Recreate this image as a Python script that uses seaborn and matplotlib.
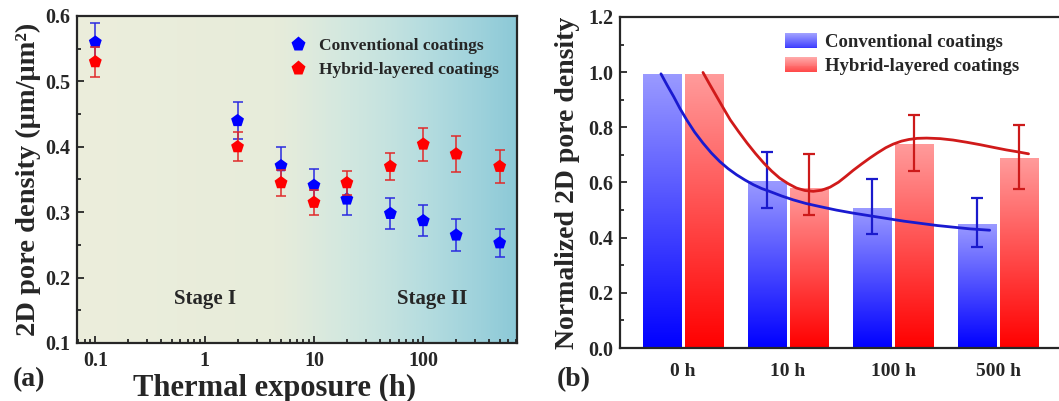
import numpy as np
import pandas as pd
import matplotlib
matplotlib.use("Agg")
import matplotlib.pyplot as plt
import seaborn as sns
from matplotlib.colors import LinearSegmentedColormap, to_rgb
from matplotlib.legend_handler import HandlerBase
from matplotlib.patches import Rectangle
from matplotlib.lines import Line2D
from matplotlib.ticker import FixedLocator, FixedFormatter, LogLocator, MultipleLocator, NullFormatter

# ---------------- data: panel (a) ----------------
exposure_h = [0.1, 2, 5, 10, 20, 50, 100, 200, 500]
conv_density = [0.56, 0.44, 0.371, 0.341, 0.32, 0.298, 0.287, 0.265, 0.253]
conv_err = [0.03, 0.028, 0.028, 0.025, 0.024, 0.024, 0.024, 0.024, 0.021]
hyb_density = [0.53, 0.40, 0.345, 0.315, 0.345, 0.37, 0.404, 0.389, 0.37]
hyb_err = [0.023, 0.022, 0.02, 0.019, 0.018, 0.021, 0.025, 0.028, 0.025]

# ---------------- data: panel (b) ----------------
time_labels = ["0 h", "10 h", "100 h", "500 h"]
conv_norm = [0.99, 0.604, 0.507, 0.447]
conv_err_lo = [0.0, 0.095, 0.094, 0.082]
conv_err_hi = [0.0, 0.106, 0.105, 0.095]
hyb_norm = [0.99, 0.58, 0.737, 0.686]
hyb_err_lo = [0.0, 0.097, 0.097, 0.108]
hyb_err_hi = [0.0, 0.124, 0.108, 0.121]

# fitted trend curves (category-axis units)
conv_curve_x = [-0.21, -0.15, -0.09, -0.03, 0.035, 0.11, 0.19, 0.27, 0.35, 0.43, 0.51, 0.59,
                0.67, 0.75, 0.83, 0.94, 1.05, 1.17, 1.3, 1.46, 1.62, 1.85, 2.1, 2.42, 2.73, 2.92]
conv_curve_y = [0.994, 0.952, 0.912, 0.869, 0.827, 0.783, 0.743, 0.707, 0.676, 0.650, 0.628, 0.609,
                0.592, 0.578, 0.567, 0.551, 0.537, 0.524, 0.513, 0.500, 0.489, 0.475, 0.460, 0.444,
                0.432, 0.427]
hyb_curve_x = [0.19, 0.255, 0.32, 0.385, 0.45, 0.53, 0.61, 0.69, 0.77, 0.845, 0.92, 1.0, 1.08,
               1.16, 1.24, 1.32, 1.40, 1.48, 1.55, 1.62, 1.70, 1.78, 1.85, 1.93, 2.0, 2.08, 2.15,
               2.23, 2.32, 2.45, 2.57, 2.70, 2.83, 2.96, 3.08, 3.19, 3.29]
hyb_curve_y = [0.999, 0.955, 0.912, 0.869, 0.827, 0.784, 0.743, 0.705, 0.670, 0.641, 0.616, 0.596,
               0.580, 0.571, 0.568, 0.572, 0.583, 0.601, 0.622, 0.644, 0.667, 0.689, 0.707, 0.726,
               0.739, 0.750, 0.756, 0.760, 0.761, 0.759, 0.754, 0.746, 0.737, 0.727, 0.718, 0.711,
               0.704]

series_names = ["Conventional coatings", "Hybrid-layered coatings"]

sns.set_style("ticks")
plt.rcParams["font.family"] = ["Liberation Serif", "DejaVu Serif"]
plt.rcParams["font.weight"] = "bold"
plt.rcParams["axes.labelweight"] = "bold"

fig = plt.figure(figsize=(10.59, 4.01), dpi=100)
axA = fig.add_axes([77 / 1059, 58 / 401, 440 / 1059, 327 / 401])
axB = fig.add_axes([620 / 1059, 53 / 401, 439 / 1059, 331 / 401])

# ================= panel (a) =================
bg_cmap = LinearSegmentedColormap.from_list(
    "bg", [(0.0, "#eceedc"), (0.45, "#e7ecda"), (0.5, "#e2ebdc"), (0.6, "#d4e8df"),
           (0.7, "#c6e3df"), (0.8, "#b4dcdf"), (0.9, "#a1d3dc"), (1.0, "#8cc9d7")])
grad = np.linspace(0, 1, 256).reshape(1, -1)
axA.imshow(grad, cmap=bg_cmap, extent=[0, 1, 0, 1], transform=axA.transAxes,
           aspect="auto", zorder=0)

dfA = pd.DataFrame({
    "x": exposure_h * 2,
    "y": conv_density + hyb_density,
    "s": [series_names[0]] * len(exposure_h) + [series_names[1]] * len(exposure_h),
})
axA.errorbar(exposure_h, conv_density, yerr=conv_err, fmt="none", ecolor="#2a2ae0",
             elinewidth=1.1, capsize=3.5, capthick=1.1, zorder=2)
sns.scatterplot(data=dfA[dfA.s == series_names[0]], x="x", y="y", color="#0000ff",
                marker="p", s=95, edgecolor="none", ax=axA, zorder=3, legend=False)
axA.errorbar(exposure_h, hyb_density, yerr=hyb_err, fmt="none", ecolor="#e02a2a",
             elinewidth=1.1, capsize=3.5, capthick=1.1, zorder=4)
sns.scatterplot(data=dfA[dfA.s == series_names[1]], x="x", y="y", color="#ff0000",
                marker="p", s=95, edgecolor="none", ax=axA, zorder=5, legend=False)

axA.set_xscale("log")
axA.set_xlim(0.068, 720)
axA.set_ylim(0.1, 0.6)
axA.xaxis.set_major_locator(FixedLocator([0.1, 1, 10, 100]))
axA.xaxis.set_major_formatter(FixedFormatter(["0.1", "1", "10", "100"]))
axA.xaxis.set_minor_locator(LogLocator(base=10, subs=np.arange(2, 10)))
axA.xaxis.set_minor_formatter(NullFormatter())
axA.yaxis.set_major_locator(MultipleLocator(0.1))
axA.yaxis.set_minor_locator(MultipleLocator(0.05))
axA.tick_params(which="both", direction="in", width=1.3, labelsize=14.5)
axA.tick_params(which="major", length=5)
axA.tick_params(which="minor", length=3)
axA.tick_params(axis="x", pad=6)
axA.tick_params(axis="y", pad=5)
for sp in axA.spines.values():
    sp.set_linewidth(1.6)
    sp.set_zorder(10)
axA.set_xlabel("Thermal exposure (h)", fontsize=22, labelpad=1)
axA.xaxis.set_label_coords(0.45, -0.094)
axA.set_ylabel("2D pore density (μm/μm²)", fontsize=20.5, labelpad=3)
axA.text(1.0, 0.167, "Stage I", fontsize=15, ha="center", va="center", fontweight="bold")
axA.text(120, 0.167, "Stage II", fontsize=15, ha="center", va="center", fontweight="bold")

legA_handles = [
    Line2D([], [], linestyle="none", marker="p", markersize=11, color="#0000ff", markeredgecolor="none"),
    Line2D([], [], linestyle="none", marker="p", markersize=11, color="#ff0000", markeredgecolor="none"),
]
axA.legend(legA_handles, series_names, loc="upper left", bbox_to_anchor=(0.483, 0.932),
           frameon=False, handlelength=1.0, handletextpad=0.7,
           borderpad=0, borderaxespad=0, labelspacing=0.45,
           prop={"weight": "bold", "size": 12.5})

# ================= panel (b) =================
dfB = pd.DataFrame({
    "time": time_labels * 2,
    "value": conv_norm + hyb_norm,
    "series": [series_names[0]] * 4 + [series_names[1]] * 4,
})
sns.barplot(data=dfB, x="time", y="value", hue="series", order=time_labels,
            hue_order=series_names, palette=["#0000ff", "#ff0000"], width=0.8,
            gap=0.075, ax=axB, legend=False, errorbar=None, zorder=1)

cmap_blue = LinearSegmentedColormap.from_list("bl", ["#0000ff", "#9a9aff"])
cmap_red = LinearSegmentedColormap.from_list("rd", ["#ff0000", "#ff9b9b"])
vgrad = np.linspace(0, 1, 256).reshape(-1, 1)
centers = {series_names[0]: [], series_names[1]: []}
for p in list(axB.patches):
    x0, w, h = p.get_x(), p.get_width(), p.get_height()
    fc = p.get_facecolor()
    is_blue = fc[2] > fc[0]
    cm = cmap_blue if is_blue else cmap_red
    axB.imshow(vgrad, cmap=cm, extent=[x0, x0 + w, 0, h], origin="lower",
               aspect="auto", zorder=1)
    p.set_visible(False)
    centers[series_names[0] if is_blue else series_names[1]].append((x0 + w / 2, h))
cb = sorted(centers[series_names[0]])
cr = sorted(centers[series_names[1]])

cbx = [c[0] for c in cb][1:]
crx = [c[0] for c in cr][1:]
axB.errorbar(cbx, conv_norm[1:], yerr=[conv_err_lo[1:], conv_err_hi[1:]], fmt="none",
             ecolor="#1a1acc", elinewidth=1.6, capsize=4, capthick=1.6, zorder=4)
axB.errorbar(crx, hyb_norm[1:], yerr=[hyb_err_lo[1:], hyb_err_hi[1:]], fmt="none",
             ecolor="#cc1a1a", elinewidth=1.6, capsize=4, capthick=1.6, zorder=4)

sns.lineplot(x=conv_curve_x, y=conv_curve_y, color="#1a1ad0", linewidth=2.0, ax=axB,
             estimator=None, sort=False, zorder=5)
sns.lineplot(x=hyb_curve_x, y=hyb_curve_y, color="#d01a1a", linewidth=2.0, ax=axB,
             estimator=None, sort=False, zorder=5)

axB.set_xlim(-0.6, 3.58)
axB.set_ylim(0, 1.2)
axB.yaxis.set_major_locator(MultipleLocator(0.2))
axB.yaxis.set_minor_locator(MultipleLocator(0.1))
axB.yaxis.set_major_formatter(matplotlib.ticker.FormatStrFormatter("%.1f"))
axB.tick_params(axis="y", which="both", direction="in", width=1.3, labelsize=14.5, pad=5)
axB.tick_params(axis="y", which="major", length=5)
axB.tick_params(axis="y", which="minor", length=3)
axB.tick_params(axis="x", length=0, labelsize=14, pad=11)
for lab in axB.get_xticklabels() + axB.get_yticklabels():
    lab.set_fontweight("bold")
axB.spines["right"].set_visible(False)
for sp in ["left", "top", "bottom"]:
    axB.spines[sp].set_linewidth(1.6)
    axB.spines[sp].set_zorder(10)
axB.set_xlabel("")
axB.set_ylabel("Normalized 2D pore density", fontsize=20, labelpad=6)


class GradientHandler(HandlerBase):
    def __init__(self, dark, light):
        super().__init__()
        self.dark = np.array(to_rgb(dark))
        self.light = np.array(to_rgb(light))

    def create_artists(self, legend, orig_handle, xdescent, ydescent, width, height,
                       fontsize, trans):
        n = 16
        arts = []
        for k in range(n):
            f = k / (n - 1)
            col = self.dark * (1 - f) + self.light * f
            r = Rectangle((-xdescent, -ydescent + height * k / n), width, height / n * 1.05,
                          facecolor=col, edgecolor="none", transform=trans)
            arts.append(r)
        return arts


hb = Rectangle((0, 0), 1, 1)
hr = Rectangle((0, 0), 1, 1, label="r")
axB.legend([hb, hr], series_names, loc="upper left", bbox_to_anchor=(0.376, 0.952),
           frameon=False, handlelength=1.7, handleheight=0.9, handletextpad=0.45,
           borderpad=0, borderaxespad=0, labelspacing=0.3,
           prop={"weight": "bold", "size": 13.5},
           handler_map={hb: GradientHandler("#3a3aff", "#a0a0ff"),
                        hr: GradientHandler("#ff4a4a", "#ffa8a8")})

fig.text(13 / 1059, 1 - 380 / 401, "(a)", fontsize=20, fontweight="bold", ha="left", va="center")
fig.text(557 / 1059, 1 - 380 / 401, "(b)", fontsize=20, fontweight="bold", ha="left", va="center")

fig.savefig("out.png", dpi=100)
